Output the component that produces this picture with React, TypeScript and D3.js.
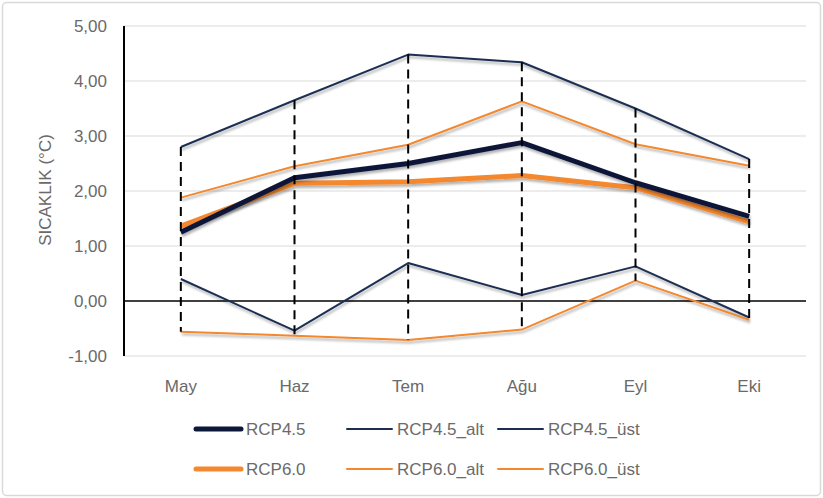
import { useMemo } from 'react'
import * as d3 from 'd3'

const months = ['May', 'Haz', 'Tem', 'Ağu', 'Eyl', 'Eki']
const rcp45 = [1.25, 2.24, 2.5, 2.88, 2.15, 1.54]
const rcp45Alt = [0.4, -0.54, 0.69, 0.11, 0.63, -0.3]
const rcp45Ust = [2.8, 3.65, 4.48, 4.34, 3.5, 2.58]
const rcp60 = [1.36, 2.14, 2.17, 2.28, 2.06, 1.44]
const rcp60Alt = [-0.56, -0.63, -0.71, -0.52, 0.37, -0.34]
const rcp60Ust = [1.88, 2.45, 2.84, 3.63, 2.85, 2.46]
const yTicks = [-1, 0, 1, 2, 3, 4, 5]

const NAVY = '#0c1838'
const NAVY_THIN = '#1c2f52'
const ORANGE = '#f3882f'
const TEXT = '#6a6a6a'

const series = [
  { name: 'RCP4.5_alt', values: rcp45Alt, color: NAVY_THIN, width: 2 },
  { name: 'RCP4.5_üst', values: rcp45Ust, color: NAVY_THIN, width: 2 },
  { name: 'RCP6.0_alt', values: rcp60Alt, color: ORANGE, width: 2 },
  { name: 'RCP6.0_üst', values: rcp60Ust, color: ORANGE, width: 2 },
  { name: 'RCP6.0', values: rcp60, color: ORANGE, width: 5 },
  { name: 'RCP4.5', values: rcp45, color: NAVY, width: 5 },
]

const legendRows = [
  ['RCP4.5', 'RCP4.5_alt', 'RCP4.5_üst'],
  ['RCP6.0', 'RCP6.0_alt', 'RCP6.0_üst'],
]

// excel style: comma decimal, plain hyphen minus
const fmt = (v: number) => v.toFixed(2).replace('.', ',')

export default function App() {
  const W = 823
  const H = 498
  const left = 124
  const right = 806
  const top = 26
  const bottom = 356

  const x = useMemo(() => d3.scaleBand().domain(months).range([left, right]), [])
  const y = useMemo(() => d3.scaleLinear().domain([-1, 5]).range([bottom, top]), [])
  const cx = (m: string) => (x(m) as number) + x.bandwidth() / 2

  const line = d3
    .line<number>()
    .x((d, i) => cx(months[i]))
    .y((d) => y(d))

  const allSeries = [rcp45, rcp45Alt, rcp45Ust, rcp60, rcp60Alt, rcp60Ust]
  const drops = months.map((m, i) => {
    const vals = allSeries.map((s) => s[i])
    return { m, hi: d3.max(vals) as number, lo: d3.min(vals) as number }
  })

  const legendX = [196, 347, 498]
  const legendY = [429, 469]
  const styleOf = (name: string) => series.find((s) => s.name === name)!

  const font = '"Liberation Sans", Arial, sans-serif'

  return (
    <svg width={W} height={H} style={{ position: 'absolute', left: 0, top: 0 }} fontFamily={font}>
      <defs>
        <filter id="shadow" x="-10%" y="-10%" width="120%" height="140%">
          <feDropShadow dx="1" dy="2.5" stdDeviation="1.2" floodColor="#000" floodOpacity="0.3" />
        </filter>
      </defs>
      <rect x={0} y={0} width={W} height={H} fill="#fff" />
      <rect x={2.5} y={2.5} width={W - 5} height={H - 5} rx={4} fill="#fff" stroke="#d9d9d9" strokeWidth={1.5} />

      {yTicks.map((t) => (
        <g key={t}>
          {t !== 0 && <line x1={left} x2={right} y1={y(t)} y2={y(t)} stroke="#d9d9d9" strokeWidth={1} />}
          <text x={107} y={y(t)} dy="0.35em" textAnchor="end" fontSize={17} fill={TEXT}>
            {fmt(t)}
          </text>
        </g>
      ))}

      <text
        transform={`translate(${45},${190}) rotate(-90)`}
        textAnchor="middle"
        dy="0.35em"
        fontSize={17}
        fill={TEXT}
      >
        SICAKLIK (°C)
      </text>

      {months.map((m) => (
        <text key={m} x={cx(m)} y={386} textAnchor="middle" dy="0.35em" fontSize={17} fill={TEXT}>
          {m}
        </text>
      ))}

      <line x1={left} x2={right} y1={y(0)} y2={y(0)} stroke="#000" strokeWidth={1.5} />
      <line x1={left} x2={left} y1={top} y2={bottom} stroke="#000" strokeWidth={2} />

      {series.map((s) => (
        <path
          key={s.name}
          d={line(s.values) || ''}
          fill="none"
          stroke={s.color}
          strokeWidth={s.width}
          strokeLinejoin="round"
          filter="url(#shadow)"
        />
      ))}

      {drops.map((d) => (
        <line
          key={d.m}
          x1={cx(d.m)}
          x2={cx(d.m)}
          y1={y(d.hi)}
          y2={y(d.lo)}
          stroke="#000"
          strokeWidth={2}
          strokeDasharray="9,6"
        />
      ))}

      {legendRows.map((row, r) =>
        row.map((name, c) => {
          const s = styleOf(name)
          return (
            <g key={name}>
              <line
                x1={legendX[c]}
                x2={legendX[c] + 45}
                y1={legendY[r]}
                y2={legendY[r]}
                stroke={s.color}
                strokeWidth={s.width}
                strokeLinecap="round"
              />
              <text x={legendX[c] + 50} y={legendY[r]} dy="0.35em" fontSize={17} fill={TEXT}>
                {name}
              </text>
            </g>
          )
        })
      )}
    </svg>
  )
}
